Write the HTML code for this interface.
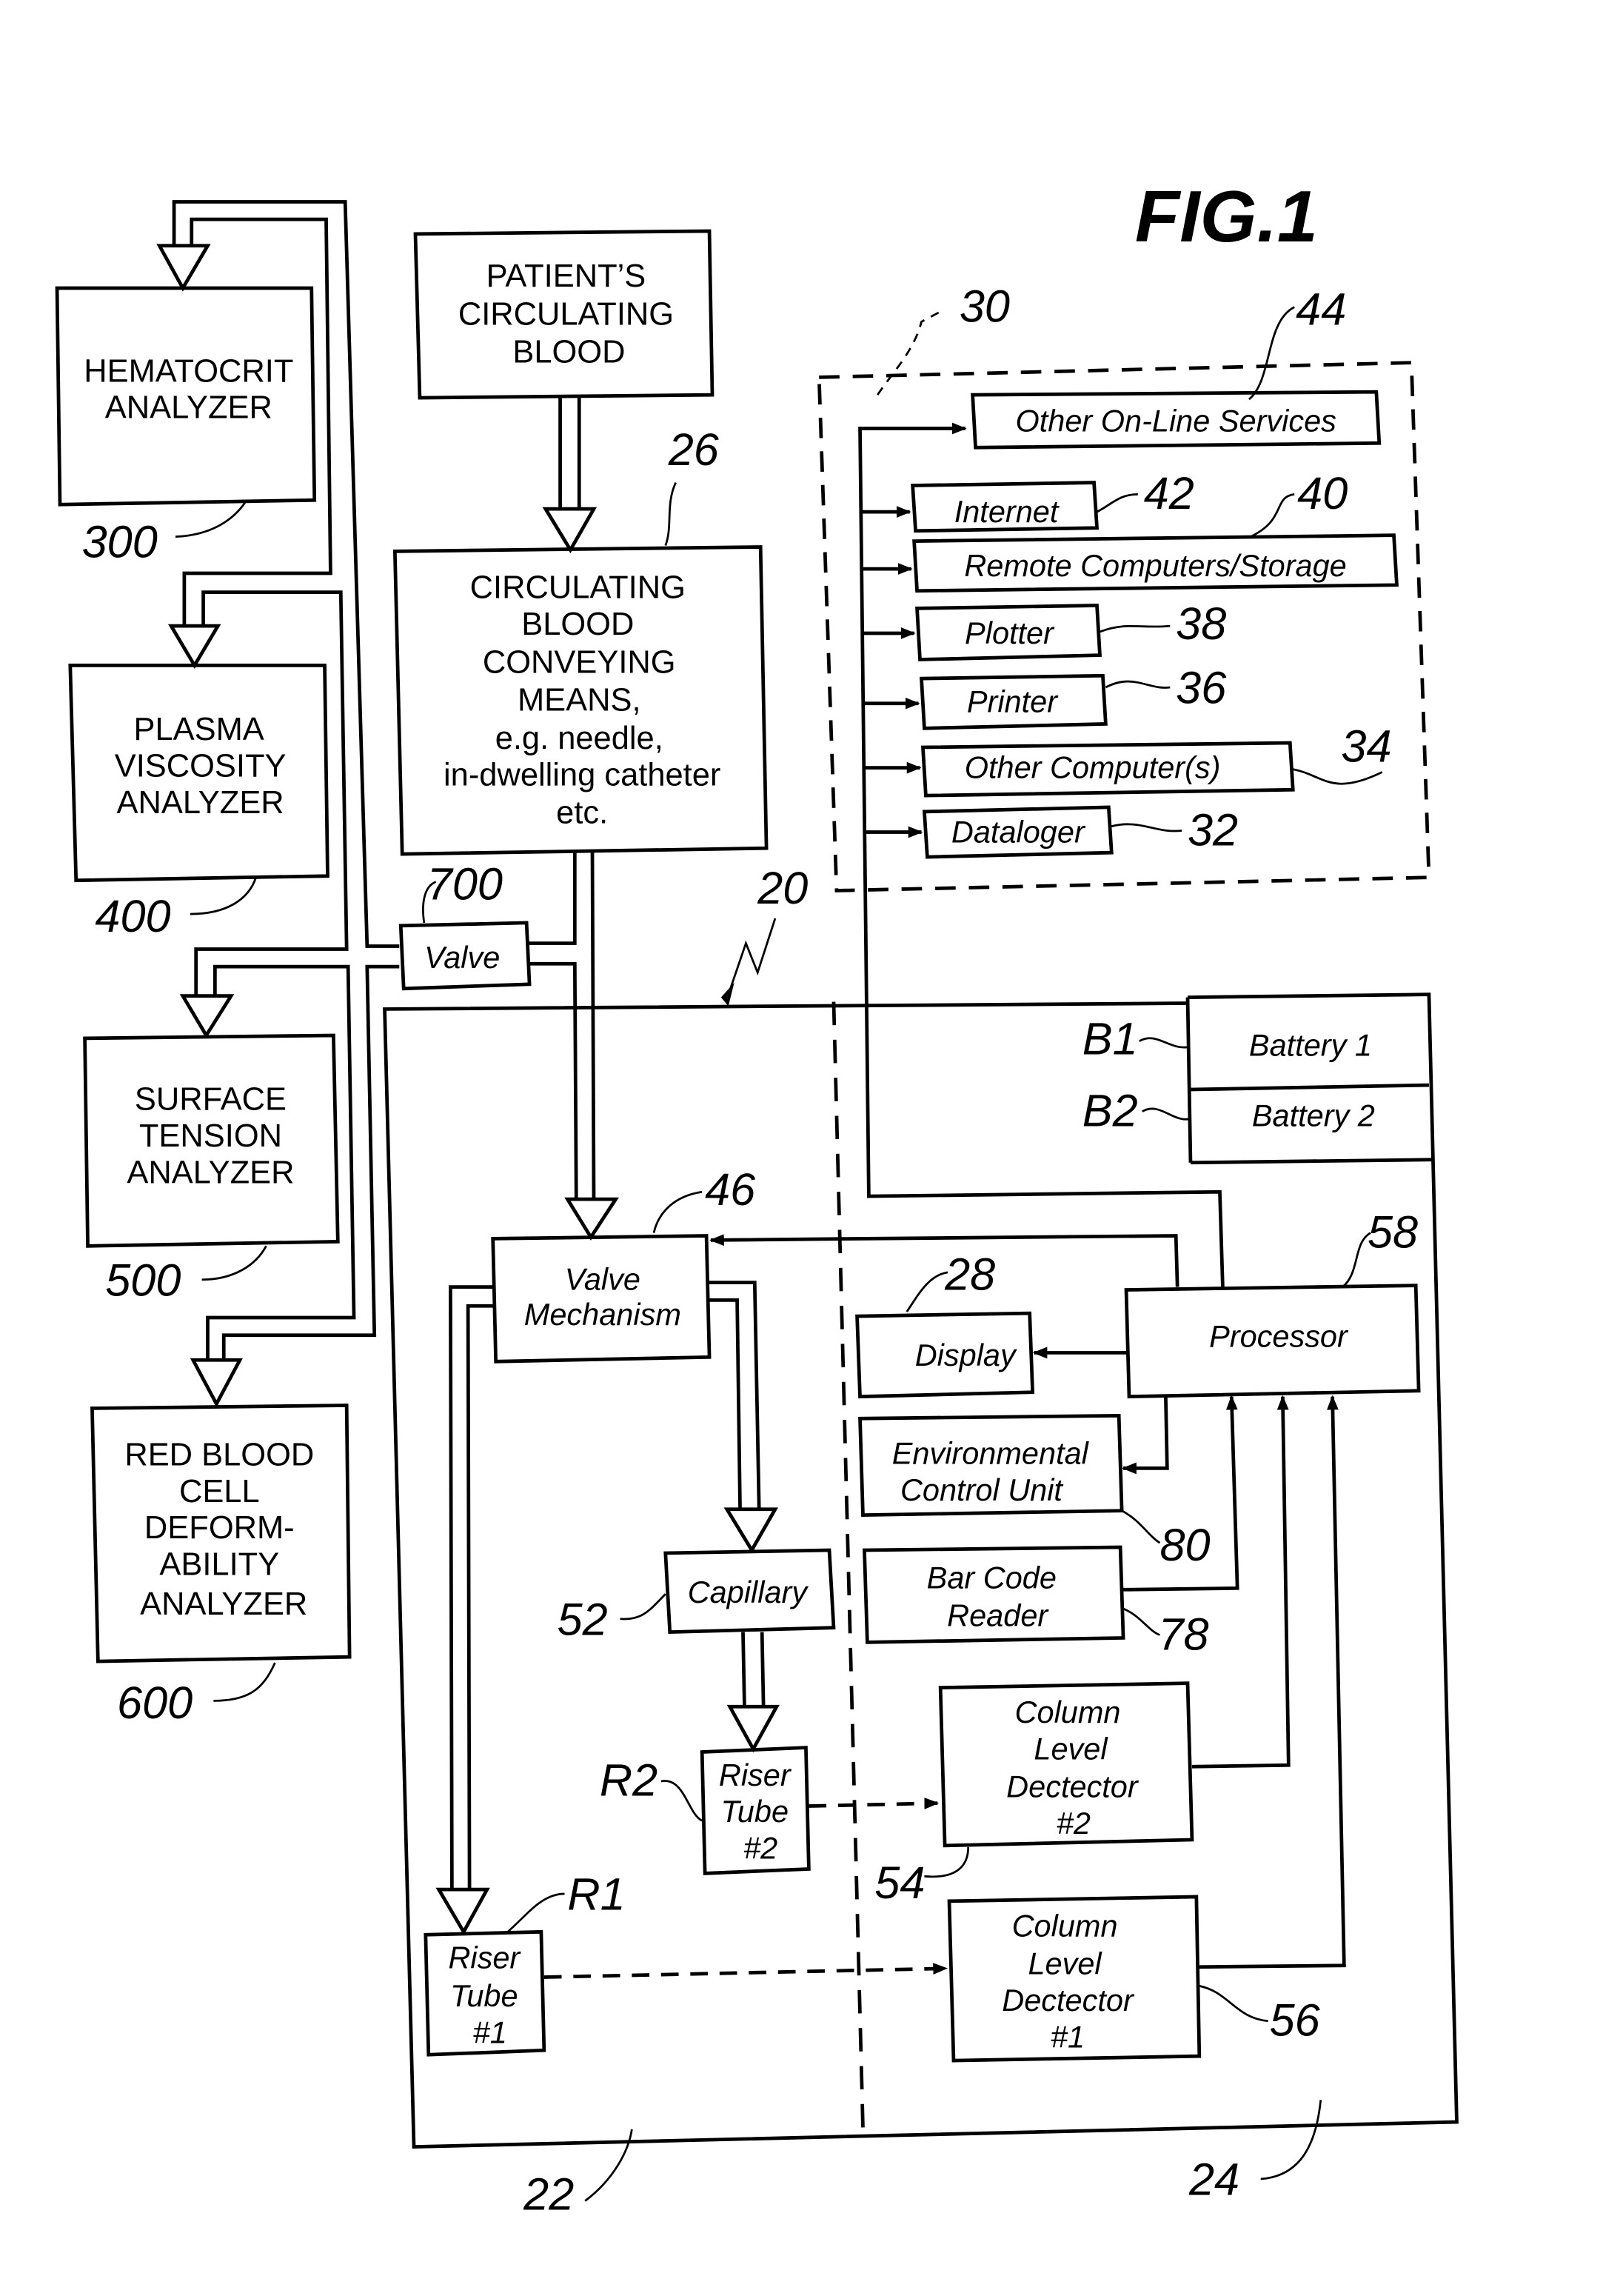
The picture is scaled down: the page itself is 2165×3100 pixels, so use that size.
<!DOCTYPE html>
<html><head><meta charset="utf-8"><style>
html,body{margin:0;padding:0;background:#fff}
svg{display:block}
text{font-family:"Liberation Sans",sans-serif;fill:#000}
</style></head><body>
<svg width="2165" height="3100" viewBox="0 0 1096 1570" preserveAspectRatio="none" xmlns="http://www.w3.org/2000/svg">
<defs>
<marker id="a" markerWidth="10" markerHeight="8" refX="9" refY="4" orient="auto" markerUnits="userSpaceOnUse"><path d="M0,0 L10,4 L0,8 z" fill="#000"/></marker>
</defs>
<g fill="none" stroke="#000" stroke-width="2.4">
<polygon points="39,197 213,197 215,342 41,345"/>
<polygon points="48,455 222,455 224,599 52,602"/>
<polygon points="58,710 228,708 231,849 60,852"/>
<polygon points="63,963 237,961 239,1133 67,1136"/>
<polyline points="273,647 251,647 236,138 119,138 119,168"/>
<polyline points="131,168 131,150 223,150 226,392 126,392 126,428"/>
<polyline points="139,428 139,405 233,405 237,649 134,649 134,681"/>
<polyline points="147,681 147,661 238,661 242,901 142,901 142,930"/>
<polyline points="273,661 251,661 256,913 153,913 153,930"/>
<polygon points="109,168 142,168 125,197"/>
<polygon points="117,428 149,428 133,455"/>
<polygon points="125,681 158,681 141,708"/>
<polygon points="132,930 164,930 148,960"/>
<polygon points="284,160 485,158 487,270 287,272"/>
<polygon points="270,377 520,374 524,580 275,584"/>
<line x1="383" y1="272" x2="383" y2="348"/><line x1="396" y1="272" x2="396" y2="348"/>
<polygon points="373,348 406,348 390,376"/>
<polygon points="274,633 360,631 362,673 276,676"/>
<polyline points="361,645 393,645 393,582"/>
<polyline points="361,659 393,659 394,820"/>
<line x1="405" y1="582" x2="406" y2="820"/>
<polygon points="388,820 421,820 404,846"/>
<polyline points="812,682 977,680 996,1451 283,1468 263,690 812,686"/>
<line x1="812" y1="682" x2="814" y2="795"/>
<line x1="814" y1="745" x2="977" y2="742"/>
<line x1="814" y1="795" x2="979" y2="793"/>
<line x1="570" y1="685" x2="590" y2="1455" stroke-dasharray="16,10"/>
<polygon points="337,847 483,845 485,928 339,931"/>
<polygon points="770,882 968,879 970,951 772,955"/>
<polygon points="586,900 704,898 706,952 588,955"/>
<polygon points="588,970 765,968 767,1033 590,1036"/>
<polygon points="591,1060 766,1058 768,1120 593,1123"/>
<polygon points="455,1062 567,1060 570,1113 458,1116"/>
<polygon points="480,1198 551,1195 553,1278 482,1281"/>
<polygon points="643,1154 812,1151 815,1258 646,1262"/>
<polygon points="291,1323 370,1321 372,1402 293,1405"/>
<polygon points="649,1300 818,1297 820,1406 652,1409"/>
<polyline points="485,877 516,877 519,1032"/>
<polyline points="485,889 504,889 506,1032"/>
<polygon points="497,1032 530,1032 514,1060"/>
<line x1="508" y1="1116" x2="509" y2="1167"/><line x1="521" y1="1116" x2="522" y2="1167"/>
<polygon points="499,1167 531,1167 515,1196"/>
<polyline points="337,880 308,880 309,1292"/>
<polyline points="337,893 320,893 321,1292"/>
<polygon points="300,1292 333,1292 317,1321"/>
<polyline points="836,880 834,815 594,818 588,293 660,293" marker-end="url(#a)"/>
<polyline points="805,880 804,845 486,848" marker-end="url(#a)"/>
<line x1="770" y1="925" x2="707" y2="925" marker-end="url(#a)"/>
<polyline points="797,954 798,1004 768,1004" marker-end="url(#a)"/>
<polyline points="768,1087 846,1086 842,955" marker-end="url(#a)"/>
<polyline points="815,1208 881,1207 877,955" marker-end="url(#a)"/>
<polyline points="820,1345 919,1344 911,955" marker-end="url(#a)"/>
<line x1="553" y1="1235" x2="641" y2="1233" stroke-dasharray="12,8" marker-end="url(#a)"/>
<line x1="372" y1="1352" x2="647" y2="1346" stroke-dasharray="12,8" marker-end="url(#a)"/>
<polygon points="560,258 965,248 977,600 572,609" stroke-dasharray="14,9"/>
<polygon points="665,270 941,268 943,303 667,306"/>
<polygon points="624,332 748,330 750,361 626,363"/>
<polygon points="625,370 953,366 955,400 627,404"/>
<polygon points="627,416 750,414 752,448 629,451"/>
<polygon points="630,464 754,462 756,495 632,498"/>
<polygon points="631,511 882,508 884,540 633,544"/>
<polygon points="632,555 758,552 760,583 634,586"/>
<line x1="589" y1="350" x2="622" y2="350" marker-end="url(#a)"/>
<line x1="590" y1="389" x2="623" y2="389" marker-end="url(#a)"/>
<line x1="590" y1="433" x2="625" y2="433" marker-end="url(#a)"/>
<line x1="591" y1="481" x2="628" y2="481" marker-end="url(#a)"/>
<line x1="591" y1="525" x2="629" y2="525" marker-end="url(#a)"/>
<line x1="592" y1="569" x2="630" y2="569" marker-end="url(#a)"/>
</g>
<g fill="none" stroke="#000" stroke-width="1.4">
<path d="M120,367 C145,366 160,355 168,343"/>
<path d="M130,625 C155,625 170,615 175,600"/>
<path d="M138,875 C160,875 175,865 182,852"/>
<path d="M146,1163 C170,1163 180,1155 188,1137"/>
<path d="M455,373 C460,360 455,345 462,330"/>
<path d="M290,631 C288,618 290,606 298,603"/>
<path d="M854,273 C870,260 865,220 885,210"/>
<path d="M750,350 C760,345 765,338 778,338"/>
<path d="M855,367 C880,355 870,340 885,338"/>
<path d="M752,432 C770,425 780,430 800,428"/>
<path d="M756,470 C775,460 785,472 800,470"/>
<path d="M884,526 C905,530 910,545 945,528"/>
<path d="M760,565 C780,560 790,570 808,568"/>
<path d="M600,270 C610,255 625,240 630,220 L645,212" stroke-dasharray="6,5"/>
<path d="M447,843 C450,830 460,818 480,815"/>
<path d="M620,897 C628,885 635,872 648,870"/>
<path d="M918,880 C930,870 925,850 937,843"/>
<path d="M767,1033 C780,1040 785,1050 793,1055"/>
<path d="M768,1100 C780,1105 785,1115 793,1118"/>
<path d="M424,1107 C440,1108 445,1100 455,1090"/>
<path d="M452,1218 C468,1215 470,1240 480,1245"/>
<path d="M346,1322 C360,1310 370,1295 386,1295"/>
<path d="M632,1283 C655,1285 662,1275 662,1263"/>
<path d="M820,1358 C840,1362 845,1380 867,1382"/>
<path d="M400,1505 C420,1490 430,1470 432,1456"/>
<path d="M862,1490 C890,1488 900,1465 903,1436"/>
<path d="M779,712 C790,705 800,718 812,716"/>
<path d="M781,760 C793,753 802,768 814,765"/>
<path d="M530,628 L518,665 L510,645 L497,683"/>
</g>
<polygon points="493,682 502,672 498,688" fill="#000"/>
<g font-size="22" text-anchor="middle">
<text x="129" y="261">HEMATOCRIT</text><text x="129" y="286">ANALYZER</text>
<text x="136" y="506">PLASMA</text><text x="137" y="531">VISCOSITY</text><text x="137" y="556">ANALYZER</text>
<text x="144" y="759">SURFACE</text><text x="144" y="784">TENSION</text><text x="144" y="809">ANALYZER</text>
<text x="150" y="1002">RED BLOOD</text><text x="150" y="1027">CELL</text><text x="150" y="1052">DEFORM-</text><text x="150" y="1077">ABILITY</text><text x="153" y="1104">ANALYZER</text>
<text x="387" y="196">PATIENT’S</text><text x="387" y="222">CIRCULATING</text><text x="389" y="248">BLOOD</text>
<text x="395" y="409">CIRCULATING</text><text x="395" y="434">BLOOD</text><text x="396" y="460">CONVEYING</text><text x="396" y="486">MEANS,</text>
<text x="396" y="512">e.g. needle,</text><text x="398" y="537">in-dwelling catheter</text><text x="398" y="563">etc.</text>
</g>
<g font-size="21" text-anchor="middle" font-style="italic">
<text x="316" y="662">Valve</text>
<text x="412" y="882">Valve</text><text x="412" y="906">Mechanism</text>
<text x="511" y="1096">Capillary</text>
<text x="516" y="1221">Riser</text><text x="516" y="1246">Tube</text><text x="520" y="1271">#2</text>
<text x="331" y="1346">Riser</text><text x="331" y="1372">Tube</text><text x="335" y="1397">#1</text>
<text x="730" y="1178">Column</text><text x="732" y="1203">Level</text><text x="733" y="1229">Dectector</text><text x="734" y="1254">#2</text>
<text x="728" y="1324">Column</text><text x="728" y="1350">Level</text><text x="730" y="1375">Dectector</text><text x="730" y="1400">#1</text>
<text x="874" y="921">Processor</text>
<text x="660" y="934">Display</text>
<text x="677" y="1001">Environmental</text><text x="671" y="1026">Control Unit</text>
<text x="678" y="1086">Bar Code</text><text x="682" y="1112">Reader</text>
<text x="896" y="722">Battery 1</text><text x="898" y="770">Battery 2</text>
<text x="804" y="295">Other On-Line Services</text>
<text x="688" y="357">Internet</text>
<text x="790" y="394">Remote Computers/Storage</text>
<text x="690" y="440">Plotter</text>
<text x="692" y="487">Printer</text>
<text x="747" y="532">Other Computer(s)</text>
<text x="696" y="576">Dataloger</text>
</g>
<g font-size="31" font-style="italic">
<text x="56" y="381">300</text><text x="65" y="637">400</text><text x="72" y="886">500</text><text x="80" y="1175">600</text>
<text x="457" y="318">26</text><text x="292" y="615">700</text><text x="518" y="618">20</text>
<text x="656" y="220">30</text><text x="886" y="222">44</text><text x="782" y="348">42</text><text x="887" y="348">40</text>
<text x="804" y="437">38</text><text x="804" y="481">36</text><text x="917" y="521">34</text><text x="812" y="578">32</text>
<text x="740" y="721">B1</text><text x="740" y="770">B2</text>
<text x="482" y="824">46</text><text x="646" y="882">28</text><text x="935" y="853">58</text>
<text x="793" y="1067">80</text><text x="792" y="1128">78</text><text x="381" y="1118">52</text>
<text x="410" y="1228">R2</text><text x="388" y="1306">R1</text><text x="598" y="1298">54</text><text x="868" y="1392">56</text>
<text x="358" y="1511">22</text><text x="813" y="1501">24</text>
</g>
<text x="776" y="165" font-size="50" font-style="italic" font-weight="bold">FIG.1</text>
</svg>
</body></html>
